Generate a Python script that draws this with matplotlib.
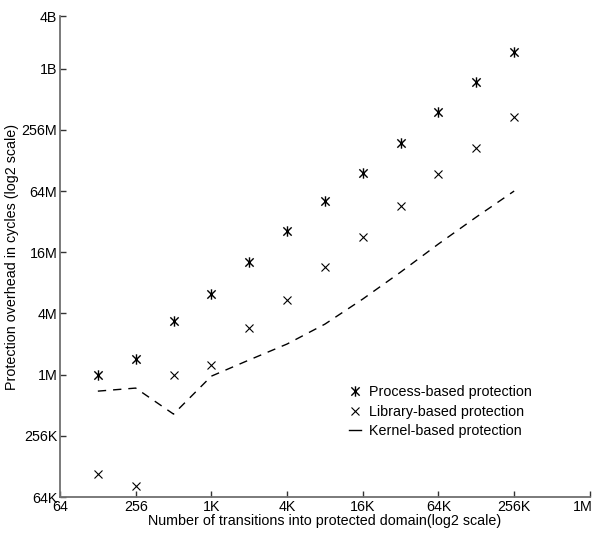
import numpy as np
import matplotlib
matplotlib.use("Agg")
import matplotlib.pyplot as plt
import matplotlib.transforms as mtransforms
from matplotlib.path import Path

# transitions into protected domain (log2 of count)
x_log2 = [7, 8, 9, 10, 11, 12, 13, 14, 15, 16, 17, 18]

# overhead in cycles (log2 of cycles)
process_log2 = [19.99, 20.51, 21.75, 22.63, 23.68, 24.68, 25.67, 26.60, 27.57, 28.57, 29.56, 30.55]
library_log2 = [16.75, 16.36, 19.99, 20.31, 21.52, 22.44, 23.52, 24.50, 25.51, 26.56, 27.41, 28.42]
kernel_log2 = [19.46, 19.56, 18.71, 19.95, 20.48, 21.00, 21.65, 22.47, 23.35, 24.27, 25.15, 26.00]

xticks = [6, 8, 10, 12, 14, 16, 18, 20]
xlabels = ["64", "256", "1K", "4K", "16K", "64K", "256K", "1M"]
# the top tick of the original sits a bit below 2^32 but is labelled 4B
yticks = [16, 18, 20, 22, 24, 26, 28, 30, 31.72]
ylabels = ["64K", "256K", "1M", "4M", "16M", "64M", "256M", "1B", "4B"]

plt.rcParams['font.family'] = ['Liberation Sans', 'DejaVu Sans']

# asterisk marker: vertical stroke plus an X
d = 0.8
star = Path([(0, -1), (0, 1), (-d, -d), (d, d), (-d, d), (d, -d)],
            [Path.MOVETO, Path.LINETO, Path.MOVETO, Path.LINETO, Path.MOVETO, Path.LINETO])

x = 2.0 ** np.array(x_log2)
fig = plt.figure(figsize=(5.97, 5.43), dpi=100)
ax = fig.add_axes([0.1005, 0.0847, 0.988 - 0.1005, 0.9705 - 0.0847])

ax.plot(x, 2.0 ** np.array(process_log2), linestyle='none', marker=star,
        markersize=7.5, markeredgewidth=1.0, color='black', label='Process-based protection')
ax.plot(x, 2.0 ** np.array(library_log2), linestyle='none', marker='x',
        markersize=6, markeredgewidth=0.8, color='black', label='Library-based protection')
ax.plot(x, 2.0 ** np.array(kernel_log2), linestyle=(0, (6, 5)), linewidth=1.0,
        color='black', label='Kernel-based protection')

ax.set_xscale('log', base=2)
ax.set_yscale('log', base=2)
ax.set_xlim(2.0 ** 6, 2.0 ** 20)
ax.set_ylim(2.0 ** 16, 2.0 ** 31.72)
ax.set_xticks([2.0 ** t for t in xticks])
ax.set_xticklabels(xlabels)
ax.set_yticks([2.0 ** t for t in yticks])
ax.set_yticklabels(ylabels)
ax.minorticks_off()

for side in ['top', 'right']:
    ax.spines[side].set_visible(False)
for side in ['left', 'bottom']:
    ax.spines[side].set_color('#707070')
    ax.spines[side].set_linewidth(1.3)
ax.tick_params(direction='in', length=4, width=1, color='#333333', labelsize=10.3, pad=2)

# nudge the last x label left so it stays inside the figure
last = ax.xaxis.get_majorticklabels()[-1]
last.set_transform(last.get_transform() + mtransforms.ScaledTranslation(-5 / 72, 0, fig.dpi_scale_trans))

ax.set_xlabel("Number of transitions into protected domain(log2 scale)", fontsize=10.3, labelpad=0)
ax.set_ylabel("Protection overhead in cycles (log2 scale)", fontsize=10.3, labelpad=2)

leg = ax.legend(loc='upper left', bbox_to_anchor=(0.535, 0.245), frameon=False,
                fontsize=10.3, handlelength=0.8, handletextpad=0.6, labelspacing=0.4,
                borderaxespad=0)
leg.get_lines()[2].set_linestyle('-')

fig.savefig('out.png', dpi=100)
